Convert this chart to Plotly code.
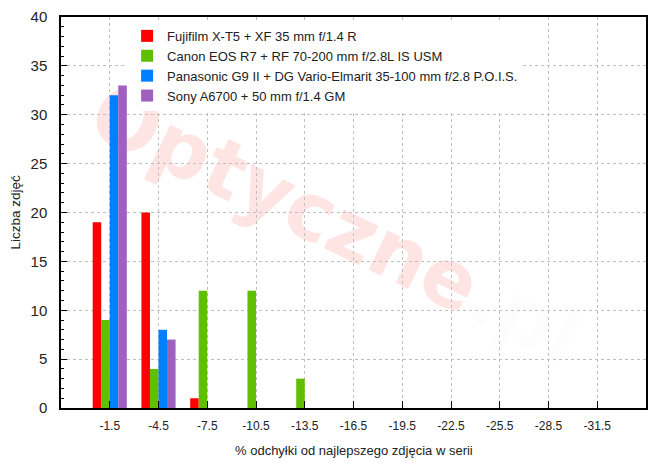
import plotly.graph_objects as go

categories = ["-1.5", "-4.5", "-7.5", "-10.5", "-13.5", "-16.5", "-19.5", "-22.5", "-25.5", "-28.5", "-31.5"]
series_names = [
    "Fujifilm X-T5 + XF 35 mm f/1.4 R",
    "Canon EOS R7 + RF 70-200 mm f/2.8L IS USM",
    "Panasonic G9 II + DG Vario-Elmarit 35-100 mm f/2.8 P.O.I.S.",
    "Sony A6700 + 50 mm f/1.4 GM",
]
fujifilm = [19, 20, 1, 0, 0, 0, 0, 0, 0, 0, 0]
canon = [9, 4, 12, 12, 3, 0, 0, 0, 0, 0, 0]
panasonic = [32, 8, 0, 0, 0, 0, 0, 0, 0, 0, 0]
sony = [33, 7, 0, 0, 0, 0, 0, 0, 0, 0, 0]
colors = ["#ff0000", "#5fbf00", "#0080ff", "#a060c0"]
y_ticks = [0, 5, 10, 15, 20, 25, 30, 35, 40]

fig = go.Figure()
for name, vals, col in zip(series_names, [fujifilm, canon, panasonic, sony], colors):
    fig.add_trace(go.Bar(x=categories, y=vals, name=name, marker=dict(color=col, line=dict(width=0))))

font_family = "Liberation Sans, Arial, sans-serif"

# watermark (behind everything); positions given in window pixels, converted to data units
def px2x(px):
    return (px - 108) / 48.9

def px2y(py):
    return (408 - py) / 9.775

fig.add_shape(type="line", xref="x", yref="y", layer="below",
              x0=px2x(72), y0=px2y(144), x1=px2x(562), y1=px2y(382),
              line=dict(width=0, color="rgba(0,0,0,0)"),
              label=dict(text="<b>Optyczne<span style='color:rgba(0,0,0,0.06)'>.pl</span></b>",
                         textposition="middle",
                         font=dict(size=80, color="rgba(255,30,30,0.12)", family="DejaVu Sans")))

# the page body has an 8px default margin, so margins are offset by 8px
fig.update_layout(
    width=670, height=463,
    margin=dict(l=53, r=32, t=9, b=63, autoexpand=False),
    paper_bgcolor="white", plot_bgcolor="rgba(0,0,0,0)",
    barmode="group", bargap=0.3, bargroupgap=0,
    font=dict(family=font_family, size=12, color="#222"),
    showlegend=True,
    legend=dict(x=0.113, y=0.99, xanchor="left", yanchor="top",
                bgcolor="white", borderwidth=0, font=dict(size=13, color="#222"),
                tracegroupgap=0),
    xaxis=dict(
        type="category", range=[-1, 11], automargin=False,
        showgrid=True, gridcolor="#c0c0c0", griddash="dot", gridwidth=1,
        showline=True, linecolor="black", linewidth=1.5, mirror=True,
        ticks="inside", ticklen=7, tickcolor="black", tickwidth=1,
        tickfont=dict(size=12, color="#222"), ticklabelstandoff=6,
        zeroline=False,
    ),
    yaxis=dict(
        range=[0, 40], tickvals=y_ticks, automargin=False,
        showgrid=True, gridcolor="#c0c0c0", griddash="dot", gridwidth=1,
        showline=True, linecolor="black", linewidth=1.5, mirror=True,
        ticks="inside", ticklen=6, tickcolor="black", tickwidth=1,
        minor=dict(dtick=1, ticks="inside", ticklen=3, tickcolor="black", showgrid=False),
        tickfont=dict(size=15, color="#222"), ticklabelstandoff=9,
        zeroline=False,
    ),
    annotations=[
        dict(text="% odchyłki od najlepszego zdjęcia w serii", xref="paper", yref="paper",
             x=0.5, y=0, yshift=-42, xanchor="center", yanchor="middle", showarrow=False,
             font=dict(size=13, color="#222")),
        dict(text="Liczba zdjęć", xref="paper", yref="paper",
             x=0, y=0.5, xshift=-46, xanchor="center", yanchor="middle", textangle=-90,
             showarrow=False, font=dict(size=13.5, color="#222")),
    ],
)

fig.write_html("out.html")
